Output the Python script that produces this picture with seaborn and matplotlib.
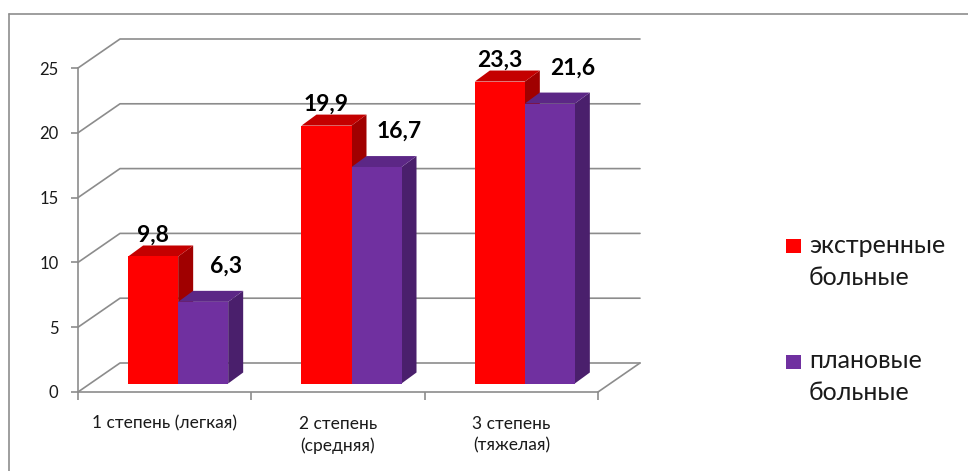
import matplotlib
matplotlib.use("Agg")
import matplotlib.pyplot as plt
import pandas as pd
import seaborn as sns
from matplotlib.patches import Polygon, Rectangle
from matplotlib.lines import Line2D

# ---------------- data ----------------
categories = ["1 степень (легкая)", "2 степень\n(средняя)", "3 степень\n(тяжелая)"]
series_names = ["экстренные больные", "плановые больные"]
emergency = [9.8, 19.9, 23.3]
planned = [6.3, 16.7, 21.6]
y_ticks = [0, 5, 10, 15, 20, 25]

# ---------------- style ----------------
front_colors = ["#FF0000", "#7030A0"]
top_colors = ["#C40000", "#5C2786"]
side_colors = ["#A00000", "#4A1F6C"]
grid_color = "#8c8c8c"
text_color = "#1a1a1a"

sns.set_style("white")
plt.rcParams['font.family'] = ['Lato', 'DejaVu Sans']

W, H = 968, 471
fig = plt.figure(figsize=(W / 100, H / 100), dpi=100)
ax = fig.add_axes([78 / W, (H - 392) / H, 520 / W, 324 / H])

df = pd.DataFrame({
    "category": categories * 2,
    "series": [series_names[0]] * len(categories) + [series_names[1]] * len(categories),
    "value": emergency + planned,
})
sns.barplot(data=df, x="category", y="value", hue="series", order=categories,
            hue_order=series_names, palette=front_colors, saturation=1,
            width=0.577, errorbar=None, legend=False, ax=ax)

ax.set_xlim(-0.5, 2.5)
ax.set_ylim(0, 25)
ax.set_xlabel("")
ax.set_ylabel("")

# pixel -> data conversions
PX = 3 / 520.0
PY = 25 / 324.0
wall_dx, wall_dy = 42 * PX, 29 * PY
shift_x, base = 13.5 * PX, 8.5 * PY
depth_dx, depth_dy = 15 * PX, 11 * PY

# back wall / side wall gridlines and floor
for t in y_ticks:
    ax.add_line(Line2D([-0.5, -0.5 + wall_dx, 2.5 + wall_dx], [t, t + wall_dy, t + wall_dy],
                       color=grid_color, lw=1.2, clip_on=False, zorder=1))
ax.add_line(Line2D([2.5, 2.5 + wall_dx], [0, wall_dy], color=grid_color, lw=1.2,
                   clip_on=False, zorder=1))

# 3D bars
label_offsets = [(0.0, 15 * PY), (23 * PX, 29 * PY)]
values = [emergency, planned]
for k, cont in enumerate(ax.containers):
    for j, bar in enumerate(cont):
        x0 = bar.get_x() + shift_x
        w = bar.get_width()
        h = bar.get_height()
        bar.set_x(x0)
        bar.set_y(base)
        bar.set_linewidth(0)
        bar.set_clip_on(False)
        bar.set_zorder(3 + k * 0.1 + 0.05)
        top = Polygon([(x0, base + h), (x0 + w, base + h),
                       (x0 + w + depth_dx, base + h + depth_dy), (x0 + depth_dx, base + h + depth_dy)],
                      closed=True, facecolor=top_colors[k], edgecolor="none",
                      clip_on=False, zorder=3 + k * 0.1)
        side = Polygon([(x0 + w, base), (x0 + w + depth_dx, base + depth_dy),
                        (x0 + w + depth_dx, base + h + depth_dy), (x0 + w, base + h)],
                       closed=True, facecolor=side_colors[k], edgecolor="none",
                       clip_on=False, zorder=3 + k * 0.1)
        ax.add_patch(side)
        ax.add_patch(top)
        v = values[k][j]
        ox, oy = label_offsets[k]
        ax.text(x0 + w / 2 + ox, base + h + oy, f"{v:.1f}".replace(".", ","),
                ha="center", va="baseline", fontsize=16.5, fontweight="bold",
                color="black", zorder=10, clip_on=False)

# axes styling
sns.despine(ax=ax)
for s in ["left", "bottom"]:
    ax.spines[s].set_color(grid_color)
    ax.spines[s].set_linewidth(1.2)
    ax.spines[s].set_zorder(2)

ax.set_yticks(y_ticks)
ax.set_yticklabels([str(t) for t in y_ticks])
ax.tick_params(axis="y", length=5, width=1.2, color=grid_color, labelsize=12,
               labelcolor=text_color, pad=9, direction="out", left=True)

ax.set_xticks([-0.5, 0.5, 1.5, 2.5])
ax.set_xticklabels([""] * 4)
ax.set_xticks([0, 1, 2], minor=True)
ax.set_xticklabels(categories, minor=True)
ax.tick_params(axis="x", which="major", length=6, width=1.2, color=grid_color,
               direction="out", bottom=True)
ax.tick_params(axis="x", which="minor", length=0, labelsize=12.5,
               labelcolor=text_color, pad=17)
for lbl in ax.get_xticklabels(minor=True):
    lbl.set_linespacing(1.4)

# legend (manual)
leg_y = [(239, 253, 285), (355, 368, 400)]
for k, name in enumerate(series_names):
    sq_top, base1, base2 = leg_y[k]
    fig.add_artist(Rectangle((786 / W, 1 - (sq_top + 14) / H), 15 / W, 14 / H,
                             transform=fig.transFigure, facecolor=front_colors[k],
                             edgecolor="none"))
    words = name.split(" ")
    fig.text(809 / W, 1 - base1 / H, words[0], ha="left", va="baseline",
             fontsize=18, color=text_color)
    fig.text(809 / W, 1 - base2 / H, words[1], ha="left", va="baseline",
             fontsize=18, color=text_color)

# outer border
fig.add_artist(Line2D([9 / W, 9 / W], [0, 1 - 14 / H], transform=fig.transFigure,
                      color="#8e8e8e", lw=1.2))
fig.add_artist(Line2D([9 / W, 1], [1 - 14 / H, 1 - 14 / H], transform=fig.transFigure,
                      color="#8e8e8e", lw=1.2))

fig.savefig("out.png", dpi=100)
